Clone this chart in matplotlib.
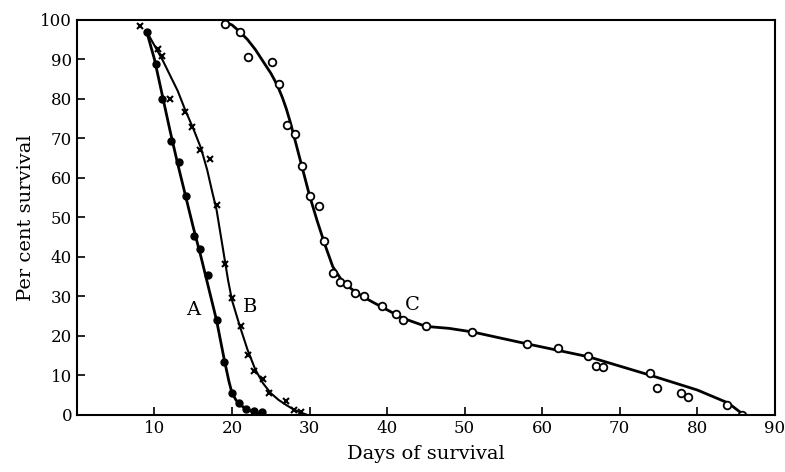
import matplotlib.pyplot as plt

# observed points (days, per cent survival)
a_days = [9.0, 10.2, 11.0, 12.1, 13.2, 14.1, 15.1, 15.9, 16.9, 18.1, 19.0, 20.0, 20.9, 21.8, 22.9, 23.9]
a_surv = [97, 88.9, 80, 69.3, 64, 55.4, 45.3, 42, 35.3, 24, 13.4, 5.5, 3, 1.6, 1.1, 0.7]

b_days = [8.1, 10.4, 11.0, 12.0, 14.0, 14.9, 15.9, 17.1, 18.0, 19.1, 20.0, 21.2, 22.0, 22.9, 24.0, 24.8, 26.9, 28.0, 28.9]
b_surv = [98.5, 92.7, 90.9, 80, 76.7, 72.9, 67, 64.8, 53.2, 38.2, 29.5, 22.4, 15.2, 11, 9, 5.6, 3.4, 1.3, 0.8]

c_days = [19.1, 21.0, 22.1, 25.2, 26.0, 27.1, 28.1, 29.0, 30.0, 31.2, 31.9, 33.0, 33.9, 34.8, 35.9, 37.0,
          39.4, 41.2, 42.0, 45.0, 50.9, 58.0, 62.1, 65.9, 66.9, 67.9, 73.9, 74.8, 77.9, 78.8, 83.8, 85.8]
c_surv = [99, 96.8, 90.6, 89.3, 83.7, 73.3, 71.1, 62.9, 55.3, 52.9, 44, 36, 33.7, 33.1, 30.8, 30,
          27.6, 25.5, 23.9, 22.4, 21, 18, 16.9, 14.9, 12.5, 12, 10.5, 6.7, 5.6, 4.5, 2.5, 0]

# hand-drawn fitted curves
a_fit_x = [9, 10, 11, 12, 13, 14, 15, 16, 17, 18, 19, 19.6, 20, 20.5, 21, 22, 23, 24]
a_fit_y = [97, 90, 81, 72, 63.5, 55.5, 47.5, 40, 32, 24, 14, 8.5, 5.5, 3.8, 2.6, 1.3, 0.6, 0.2]

b_fit_x = [9, 10, 11, 12, 13, 14, 15, 16, 16.8, 17.5, 18, 18.5, 19, 19.5, 20, 21, 22, 23, 24, 25, 26, 27, 28, 29, 29.7]
b_fit_y = [97, 93.5, 90, 86, 82, 77, 72.5, 67.5, 62, 56, 52, 46, 40, 34, 29, 22.5, 16.5, 11.5, 8, 5.5, 3.8, 2.5, 1.3, 0.5, 0]

c_fit_x = [19, 20, 21, 22, 23, 24, 25, 25.5, 26, 26.5, 27, 27.5, 28, 29, 30, 31, 32, 33, 34, 35, 36, 37, 38, 40, 42,
           45, 48, 51, 58, 66, 74, 80, 84, 86]
c_fit_y = [99.5, 98.7, 97, 95, 92.5, 89.5, 86.5, 84.7, 82.7, 80.3, 77.5, 74.2, 70.5, 63, 55.5, 49, 43, 37.5, 34.5, 32.5, 31, 29.8, 28.7, 26.6, 24.5,
           22.4, 21.9, 21, 18, 14.7, 10, 6.3, 3, 0]

curve_labels = ['A', 'B', 'C']
label_x = [15, 22.3, 43.2]
label_y = [26.5, 27.3, 27.8]

plt.rcParams['font.family'] = 'DejaVu Serif'

fig = plt.figure(figsize=(7.85, 4.72), dpi=100)
ax = fig.add_axes([0.098, 0.121, 0.889, 0.837])

ax.plot(a_fit_x, a_fit_y, color='black', lw=2.0)
ax.plot(b_fit_x, b_fit_y, color='black', lw=1.5)
ax.plot(c_fit_x, c_fit_y, color='black', lw=2.0)

ax.plot(a_days, a_surv, 'o', color='black', ms=5)
ax.plot(b_days, b_surv, 'x', color='black', ms=5, mew=1.5)
ax.plot(c_days, c_surv, 'o', mfc='white', mec='black', ms=5.5, mew=1.3)

for lab, lx, ly in zip(curve_labels, label_x, label_y):
    ax.text(lx, ly, lab, fontsize=14, ha='center', va='center')

ax.set_xlim(0, 90)
ax.set_ylim(0, 100)
ax.set_xticks(range(10, 91, 10))
ax.set_yticks(range(0, 101, 10))
ax.tick_params(direction='in', length=6, width=1.2, labelsize=12)
for s in ax.spines.values():
    s.set_linewidth(1.5)

ax.set_xlabel('Days of survival', fontsize=14, labelpad=6)
ax.set_ylabel('Per cent survival', fontsize=14)

fig.savefig('out.png', dpi=100)
